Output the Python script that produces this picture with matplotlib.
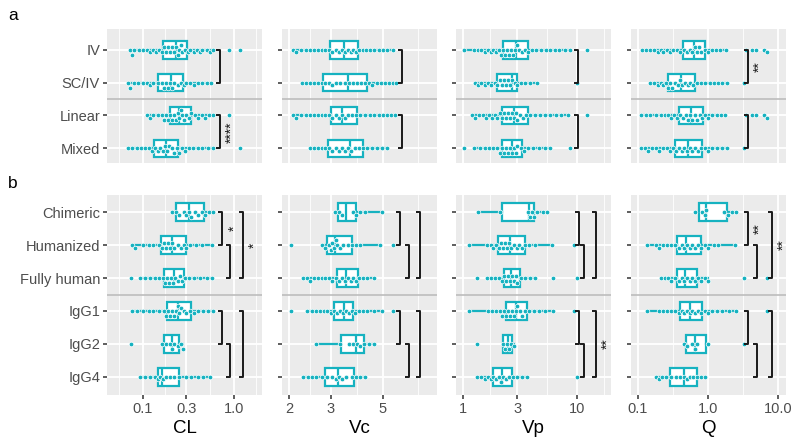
import numpy as np
import matplotlib
matplotlib.use('Agg')
import matplotlib.pyplot as plt

plt.rcParams['font.family'] = ['Liberation Sans', 'DejaVu Sans']

# ---------------- data ----------------
params = ['CL', 'Vc', 'Vp', 'Q']
cats_a = ['IV', 'SC/IV', 'Linear', 'Mixed']
cats_b = ['Chimeric', 'Humanized', 'Fully human', 'IgG1', 'IgG2', 'IgG4']

xtick_vals = {'CL': [0.1, 0.3, 1.0], 'Vc': [2, 3, 5], 'Vp': [1, 3, 10], 'Q': [0.1, 1.0, 10.0]}
xtick_labels = {'CL': ['0.1', '0.3', '1.0'], 'Vc': ['2', '3', '5'],
                'Vp': ['1', '3', '10'], 'Q': ['0.1', '1.0', '10.0']}
grid_breaks = {'CL': [0.03, 0.1, 0.3, 1.0, 3.0], 'Vc': [1, 2, 3, 5, 10],
               'Vp': [0.3, 1, 3, 10, 30], 'Q': [0.01, 0.1, 1, 10, 100]}
xlims = {'CL': (0.0402, 2.03), 'Vc': (1.868, 8.47), 'Vp': (0.868, 19.9), 'Q': (0.0794, 13.0)}

# box stats: (q1, median, q3, whisker low, whisker high)
cl_box = {'IV': (0.167, 0.229, 0.307, 0.072, 0.59), 'SC/IV': (0.146, 0.203, 0.275, 0.068, 0.56),
          'Linear': (0.198, 0.249, 0.337, 0.11, 0.59), 'Mixed': (0.132, 0.18, 0.24, 0.068, 0.59),
          'Chimeric': (0.23, 0.32, 0.47, 0.21, 0.59), 'Humanized': (0.158, 0.21, 0.30, 0.076, 0.57),
          'Fully human': (0.17, 0.22, 0.28, 0.093, 0.57), 'IgG1': (0.184, 0.24, 0.337, 0.075, 0.59),
          'IgG2': (0.17, 0.21, 0.25, 0.16, 0.275), 'IgG4': (0.146, 0.16, 0.25, 0.093, 0.54)}
vc_box = {'IV': (2.98, 3.42, 3.93, 2.08, 5.5), 'SC/IV': (2.79, 3.56, 4.3, 2.27, 5.7),
          'Linear': (3.0, 3.35, 3.9, 2.08, 5.6), 'Mixed': (2.92, 3.62, 4.1, 2.46, 5.2),
          'Chimeric': (3.22, 3.49, 3.85, 3.13, 4.94), 'Humanized': (2.9, 3.13, 3.7, 2.76, 4.85),
          'Fully human': (3.19, 3.49, 3.93, 2.29, 4.6), 'IgG1': (3.1, 3.42, 3.74, 2.38, 4.95),
          'IgG2': (3.32, 3.85, 4.16, 2.6, 4.6), 'IgG4': (2.84, 3.22, 3.77, 2.29, 4.2)}
vp_box = {'IV': (2.24, 2.92, 3.7, 1.02, 8.7), 'SC/IV': (1.99, 2.69, 2.97, 1.27, 4.45),
          'Linear': (2.2, 2.8, 3.7, 1.2, 8.3), 'Mixed': (2.2, 2.69, 3.3, 1.25, 5.8),
          'Chimeric': (2.2, 3.8, 4.2, 1.35, 5.5), 'Humanized': (2.03, 2.58, 3.5, 1.13, 6.1),
          'Fully human': (2.29, 2.63, 3.16, 1.62, 4.28), 'IgG1': (2.38, 2.92, 3.64, 1.13, 6.2),
          'IgG2': (2.24, 2.48, 2.69, 2.24, 2.8), 'IgG4': (1.83, 2.2, 2.69, 1.33, 3.64)}
q_box = {'IV': (0.44, 0.63, 0.9, 0.114, 1.8), 'SC/IV': (0.27, 0.41, 0.65, 0.15, 1.87),
         'Linear': (0.385, 0.57, 0.85, 0.11, 1.75), 'Mixed': (0.34, 0.52, 0.82, 0.11, 1.87),
         'Chimeric': (0.74, 0.93, 1.87, 0.65, 2.5), 'Humanized': (0.36, 0.49, 0.8, 0.135, 2.43),
         'Fully human': (0.36, 0.47, 0.7, 0.21, 1.0), 'IgG1': (0.4, 0.55, 0.82, 0.135, 2.5),
         'IgG2': (0.49, 0.65, 0.93, 0.45, 1.0), 'IgG4': (0.29, 0.45, 0.7, 0.18, 0.9)}

cl_dots = {
    'IV': [0.072, 0.076, 0.08, 0.09, 0.1, 0.11, 0.12, 0.13, 0.14, 0.15, 0.16, 0.17, 0.18, 0.19, 0.2, 0.21,
           0.22, 0.23, 0.24, 0.25, 0.26, 0.27, 0.29, 0.31, 0.33, 0.36, 0.39, 0.42, 0.45, 0.5, 0.54, 0.59, 0.87, 1.17],
    'SC/IV': [0.068, 0.072, 0.08, 0.088, 0.1, 0.11, 0.12, 0.13, 0.145, 0.16, 0.17, 0.18, 0.19, 0.2, 0.21,
              0.22, 0.24, 0.26, 0.28, 0.3, 0.33, 0.36, 0.4, 0.45, 0.5, 0.56],
    'Linear': [0.11, 0.12, 0.13, 0.145, 0.16, 0.17, 0.18, 0.19, 0.2, 0.21, 0.22, 0.23, 0.24, 0.25, 0.26,
               0.27, 0.28, 0.3, 0.32, 0.34, 0.37, 0.4, 0.44, 0.48, 0.53, 0.59, 0.88],
    'Mixed': [0.068, 0.075, 0.085, 0.095, 0.105, 0.115, 0.125, 0.135, 0.145, 0.155, 0.165, 0.175, 0.185,
              0.195, 0.21, 0.22, 0.235, 0.25, 0.27, 0.29, 0.32, 0.35, 0.4, 0.45, 0.52, 0.59, 1.17],
    'Chimeric': [0.21, 0.23, 0.25, 0.28, 0.3, 0.32, 0.34, 0.37, 0.4, 0.44, 0.48, 0.53, 0.59],
    'Humanized': [0.076, 0.082, 0.1, 0.115, 0.13, 0.15, 0.16, 0.17, 0.18, 0.19, 0.2, 0.21, 0.22, 0.24,
                  0.26, 0.28, 0.3, 0.33, 0.38, 0.45, 0.57],
    'Fully human': [0.074, 0.093, 0.105, 0.12, 0.135, 0.15, 0.165, 0.175, 0.185, 0.195, 0.205, 0.215,
                    0.225, 0.24, 0.255, 0.27, 0.29, 0.32, 0.36, 0.42, 0.5, 0.57],
    'IgG1': [0.075, 0.085, 0.1, 0.115, 0.13, 0.15, 0.17, 0.18, 0.19, 0.2, 0.21, 0.22, 0.23, 0.24, 0.25,
             0.26, 0.28, 0.3, 0.33, 0.36, 0.4, 0.46, 0.52, 0.59],
    'IgG2': [0.074, 0.16, 0.18, 0.2, 0.21, 0.22, 0.24, 0.26, 0.275],
    'IgG4': [0.093, 0.105, 0.12, 0.135, 0.145, 0.155, 0.165, 0.18, 0.2, 0.22, 0.25, 0.3, 0.34, 0.4, 0.46, 0.54],
}
vc_dots = {
    'IV': [2.08, 2.15, 2.25, 2.35, 2.45, 2.55, 2.65, 2.75, 2.85, 2.95, 3.05, 3.15, 3.25, 3.35, 3.45, 3.55,
           3.65, 3.75, 3.85, 3.95, 4.1, 4.25, 4.4, 4.6, 4.8, 5.0, 5.2, 5.5],
    'SC/IV': [2.27, 2.35, 2.45, 2.55, 2.65, 2.75, 2.85, 2.95, 3.05, 3.15, 3.3, 3.45, 3.6, 3.75, 3.9, 4.05,
              4.2, 4.35, 4.5, 4.7, 4.9, 5.1, 5.3, 5.5, 5.7],
    'Linear': [2.08, 2.15, 2.25, 2.35, 2.45, 2.55, 2.65, 2.75, 2.85, 2.95, 3.05, 3.15, 3.25, 3.35, 3.45,
               3.55, 3.7, 3.85, 4.0, 4.2, 4.4, 4.6, 4.8, 5.0, 5.2, 5.4, 5.6],
    'Mixed': [2.46, 2.55, 2.65, 2.75, 2.85, 2.95, 3.05, 3.15, 3.25, 3.35, 3.45, 3.55, 3.65, 3.8, 3.95, 4.1,
              4.3, 4.5, 4.7, 4.95, 5.2],
    'Chimeric': [3.13, 3.25, 3.35, 3.75, 3.85, 4.0, 4.2, 4.94],
    'Humanized': [2.04, 2.76, 2.85, 2.95, 3.0, 3.05, 3.1, 3.15, 3.2, 3.3, 3.4, 3.55, 3.7, 3.85, 4.0, 4.85, 5.5],
    'Fully human': [2.29, 2.38, 2.45, 2.55, 2.65, 2.75, 2.85, 2.95, 3.05, 3.15, 3.25, 3.35, 3.45, 3.55,
                    3.65, 3.75, 3.85, 3.95, 4.1, 4.3, 4.6],
    'IgG1': [2.04, 2.38, 2.5, 2.6, 2.7, 2.8, 2.9, 3.0, 3.1, 3.2, 3.3, 3.4, 3.5, 3.6, 3.7, 3.8, 3.95, 4.1,
             4.3, 4.6, 4.95, 5.5],
    'IgG2': [2.6, 3.3, 3.6, 3.75, 3.9, 4.0, 4.15, 4.35, 4.6],
    'IgG4': [2.29, 2.4, 2.5, 2.6, 2.75, 2.9, 3.05, 3.15, 3.25, 3.35, 3.5, 3.7, 3.85, 4.0, 4.2],
}
vp_dots = {
    'IV': [1.02, 1.25, 1.35, 1.45, 1.55, 1.65, 1.75, 1.85, 1.95, 2.05, 2.15, 2.25, 2.35, 2.45, 2.55, 2.65,
           2.75, 2.85, 2.95, 3.1, 3.3, 3.5, 3.75, 4.0, 4.4, 4.8, 5.3, 5.8, 6.4, 7.0, 7.8, 8.7, 12.2],
    'SC/IV': [1.27, 1.35, 1.45, 1.55, 1.65, 1.75, 1.9, 2.0, 2.1, 2.2, 2.3, 2.4, 2.5, 2.6, 2.7, 2.85, 3.0,
              3.2, 3.5, 3.9, 4.45, 10.0],
    'Linear': [1.2, 1.28, 1.38, 1.5, 1.6, 1.7, 1.8, 1.9, 2.0, 2.1, 2.2, 2.3, 2.4, 2.5, 2.6, 2.7, 2.8, 2.9,
               3.0, 3.15, 3.35, 3.6, 3.9, 4.3, 4.7, 5.2, 5.8, 6.5, 7.3, 8.3, 12.2],
    'Mixed': [1.02, 1.25, 1.4, 1.55, 1.7, 1.85, 2.0, 2.1, 2.2, 2.3, 2.4, 2.5, 2.6, 2.7, 2.8, 2.9, 3.0, 3.2,
              3.4, 3.7, 4.1, 4.6, 5.2, 5.8, 8.7],
    'Chimeric': [1.35, 2.1, 3.7, 3.85, 4.0, 4.2, 4.5, 5.0, 5.5],
    'Humanized': [1.13, 1.62, 1.75, 1.85, 1.95, 2.05, 2.15, 2.25, 2.35, 2.45, 2.55, 2.65, 2.8, 2.95, 3.1,
                  3.3, 3.5, 3.8, 4.3, 6.1, 9.4],
    'Fully human': [1.33, 1.62, 1.75, 1.9, 2.05, 2.2, 2.3, 2.4, 2.5, 2.6, 2.7, 2.8, 2.9, 3.0, 3.2, 3.5,
                    3.9, 4.28, 6.2, 10.0],
    'IgG1': [1.13, 1.66, 1.8, 1.95, 2.1, 2.2, 2.3, 2.4, 2.5, 2.6, 2.7, 2.8, 2.9, 3.0, 3.15, 3.3, 3.5, 3.8,
             4.2, 4.6, 5.2, 6.2, 9.4],
    'IgG2': [1.33, 2.24, 2.35, 2.45, 2.55, 2.65, 2.8],
    'IgG4': [1.33, 1.45, 1.55, 1.65, 1.75, 1.85, 1.95, 2.05, 2.15, 2.25, 2.4, 2.55, 2.75, 3.0, 3.3, 3.64, 10.0],
}
q_dots = {
    'IV': [0.114, 0.13, 0.15, 0.17, 0.19, 0.21, 0.23, 0.26, 0.29, 0.32, 0.36, 0.4, 0.45, 0.5, 0.55, 0.6,
           0.65, 0.7, 0.75, 0.8, 0.9, 1.0, 1.15, 1.3, 1.5, 1.8, 3.5, 4.2, 4.9, 6.3, 7.0],
    'SC/IV': [0.15, 0.17, 0.19, 0.21, 0.23, 0.25, 0.27, 0.29, 0.31, 0.34, 0.37, 0.4, 0.43, 0.47, 0.51,
              0.56, 0.62, 0.7, 0.8, 0.92, 1.05, 1.2, 1.4, 1.6, 1.87, 3.27],
    'Linear': [0.11, 0.13, 0.15, 0.18, 0.21, 0.24, 0.27, 0.3, 0.33, 0.36, 0.4, 0.44, 0.48, 0.52, 0.56, 0.6,
               0.65, 0.7, 0.76, 0.83, 0.9, 1.0, 1.15, 1.35, 1.55, 1.75, 3.5, 4.2, 4.9, 6.3, 7.0],
    'Mixed': [0.11, 0.125, 0.14, 0.16, 0.18, 0.2, 0.23, 0.26, 0.29, 0.32, 0.35, 0.38, 0.42, 0.46, 0.5,
              0.55, 0.6, 0.66, 0.72, 0.8, 0.9, 1.0, 1.15, 1.35, 1.6, 1.87, 3.27],
    'Chimeric': [0.65, 0.82, 0.9, 0.95, 1.7, 1.9, 2.2, 2.5],
    'Humanized': [0.135, 0.18, 0.2, 0.23, 0.26, 0.3, 0.34, 0.38, 0.42, 0.46, 0.5, 0.55, 0.6, 0.66, 0.72,
                  0.8, 0.9, 1.0, 1.2, 1.4, 2.43],
    'Fully human': [0.21, 0.24, 0.27, 0.3, 0.34, 0.38, 0.42, 0.46, 0.5, 0.55, 0.6, 0.66, 0.72, 0.8, 0.9,
                    1.0, 3.3, 6.9],
    'IgG1': [0.135, 0.2, 0.23, 0.26, 0.3, 0.34, 0.38, 0.42, 0.46, 0.5, 0.55, 0.6, 0.66, 0.72, 0.8, 0.9,
             1.0, 1.15, 1.35, 1.6, 2.0, 2.5, 6.9],
    'IgG2': [0.45, 0.5, 0.6, 0.65, 0.7, 1.0, 3.3],
    'IgG4': [0.18, 0.2, 0.22, 0.25, 0.3, 0.35, 0.4, 0.45, 0.5, 0.55, 0.62, 0.7, 0.8, 0.9],
}

# significance brackets: (x position, row from, row to, label)
cl_sig_a = [(0.70, 0, 1, ''), (0.70, 2, 3, '****')]
vc_sig_a = [(6.02, 0, 1, ''), (6.02, 2, 3, '')]
vp_sig_a = [(10.2, 0, 1, ''), (10.2, 2, 3, '')]
q_sig_a = [(3.73, 0, 1, '**'), (3.73, 2, 3, '')]
cl_sig_b = [(0.74, 0, 1, '*'), (0.90, 1, 2, ''), (1.25, 0, 2, '*'),
            (0.74, 3, 4, ''), (0.90, 4, 5, ''), (1.25, 3, 5, '')]
vc_sig_b = [(5.91, 0, 1, ''), (6.45, 1, 2, ''), (7.2, 0, 2, ''),
            (5.91, 3, 4, ''), (6.45, 4, 5, ''), (7.2, 3, 5, '')]
vp_sig_b = [(10.4, 0, 1, ''), (11.5, 1, 2, ''), (14.7, 0, 2, ''),
            (10.4, 3, 4, ''), (11.5, 4, 5, ''), (14.7, 3, 5, '**')]
q_sig_b = [(3.73, 0, 1, '**'), (5.0, 1, 2, ''), (8.2, 0, 2, '**'),
           (3.73, 3, 4, ''), (5.0, 4, 5, ''), (8.2, 3, 5, '')]

boxes = {'CL': cl_box, 'Vc': vc_box, 'Vp': vp_box, 'Q': q_box}
dots = {'CL': cl_dots, 'Vc': vc_dots, 'Vp': vp_dots, 'Q': q_dots}
sigs_a = {'CL': cl_sig_a, 'Vc': vc_sig_a, 'Vp': vp_sig_a, 'Q': q_sig_a}
sigs_b = {'CL': cl_sig_b, 'Vc': vc_sig_b, 'Vp': vp_sig_b, 'Q': q_sig_b}

# ---------------- style ----------------
TEAL = '#16B2C0'
PANEL_BG = '#EBEBEB'
W, H = 800, 447
DPI = 100
col_left = [107, 282, 456, 631]
col_w = 155
rows_geom = {'a': (29, 163, (3.45, -0.64)), 'b': (195, 395, (5.55, -0.52))}


def swarm_offsets(xpix, diam=3.5, step=2.5, maxlev=3):
    order = np.argsort(xpix)
    placed = []
    offs = np.zeros(len(xpix))
    for i in order:
        x = xpix[i]
        cands = [0.0]
        for k in range(1, maxlev + 1):
            cands += [k * step, -k * step]
        best = cands[0]
        for c in cands:
            ok = True
            for px, py in placed:
                if abs(x - px) < diam and (x - px) ** 2 + (c - py) ** 2 < diam ** 2:
                    ok = False
                    break
            if ok:
                best = c
                break
        offs[i] = best
        placed.append((x, best))
    return offs


fig = plt.figure(figsize=(W / DPI, H / DPI), dpi=DPI)

for panel, cats, sigs in [('a', cats_a, sigs_a), ('b', cats_b, sigs_b)]:
    top, bot, ylim = rows_geom[panel]
    for ci, p in enumerate(params):
        ax = fig.add_axes([col_left[ci] / W, 1 - bot / H, col_w / W, (bot - top) / H])
        ax.set_facecolor(PANEL_BG)
        ax.set_xscale('log')
        xmin, xmax = xlims[p]
        ax.set_xlim(xmin, xmax)
        ax.set_ylim(*ylim)
        for s in ax.spines.values():
            s.set_visible(False)
        # grid
        br = np.log10(grid_breaks[p])
        minors = 10 ** ((br[:-1] + br[1:]) / 2)
        for m in minors:
            ax.axvline(m, color='white', lw=0.6, zorder=0.5)
        for b in grid_breaks[p]:
            ax.axvline(b, color='white', lw=1.3, zorder=0.6)
        for yi in range(len(cats)):
            ax.axhline(yi, color='white', lw=1.3, zorder=0.6)
        # separator line
        sep = 1.5 if panel == 'a' else 2.5
        ax.axhline(sep, color='#BDBDBD', lw=1.2, zorder=0.7)

        # boxes
        stats = []
        for c in cats:
            q1, med, q3, lo, hi = boxes[p][c]
            stats.append({'q1': q1, 'med': med, 'q3': q3, 'whislo': lo, 'whishi': hi, 'fliers': []})
        ax.bxp(stats, positions=list(range(len(cats))), widths=0.53, orientation='horizontal',
               patch_artist=True, showcaps=False, showfliers=False, manage_ticks=False,
               boxprops=dict(facecolor='white', edgecolor=TEAL, linewidth=1.6),
               medianprops=dict(color=TEAL, linewidth=1.6),
               whiskerprops=dict(color=TEAL, linewidth=1.6), zorder=2)

        # dots (beeswarm)
        ppd = col_w / (np.log10(xmax) - np.log10(xmin))
        y_per_px = (ylim[0] - ylim[1]) / (bot - top)
        for yi, c in enumerate(cats):
            v = np.array(dots[p][c], dtype=float)
            xp = np.log10(v) * ppd
            off = swarm_offsets(xp)
            ax.scatter(v, yi + off * y_per_px, s=11, color=TEAL, edgecolors='white',
                       linewidths=0.5, zorder=3)

        # significance brackets
        tip = 10 ** (4.0 / ppd)
        lab = 10 ** (12.0 / ppd)
        for (bx, r1, r2, label) in sigs[p]:
            ax.plot([bx / tip, bx, bx, bx / tip], [r1, r1, r2, r2], color='#1A1A1A', lw=1.4,
                    zorder=4, solid_capstyle='butt', clip_on=False)
            if label:
                ax.text(bx * lab, (r1 + r2) / 2, label, rotation=90, ha='center', va='center',
                        fontsize=10, color='#1A1A1A', zorder=5)

        # ticks
        ax.set_yticks(range(len(cats)))
        if ci == 0:
            ax.set_yticklabels(cats, fontsize=10.5, color='#4D4D4D')
        else:
            ax.set_yticklabels([])
        ax.tick_params(axis='y', length=3, width=1.1, color='#333333', pad=2)
        if panel == 'b':
            ax.set_xticks(xtick_vals[p])
            ax.set_xticklabels(xtick_labels[p], fontsize=10.5, color='#4D4D4D')
            ax.tick_params(axis='x', length=3, width=1.1, color='#333333', pad=2)
            ax.set_xlabel(p, fontsize=13.5, color='black', labelpad=3)
        else:
            ax.set_xticks([])
        ax.minorticks_off()

fig.text(8 / W, 1 - 16 / H, 'a', fontsize=12.5, ha='left', va='center')
fig.text(8 / W, 1 - 183 / H, 'b', fontsize=12.5, ha='left', va='center')

fig.savefig('out.png', dpi=DPI)
